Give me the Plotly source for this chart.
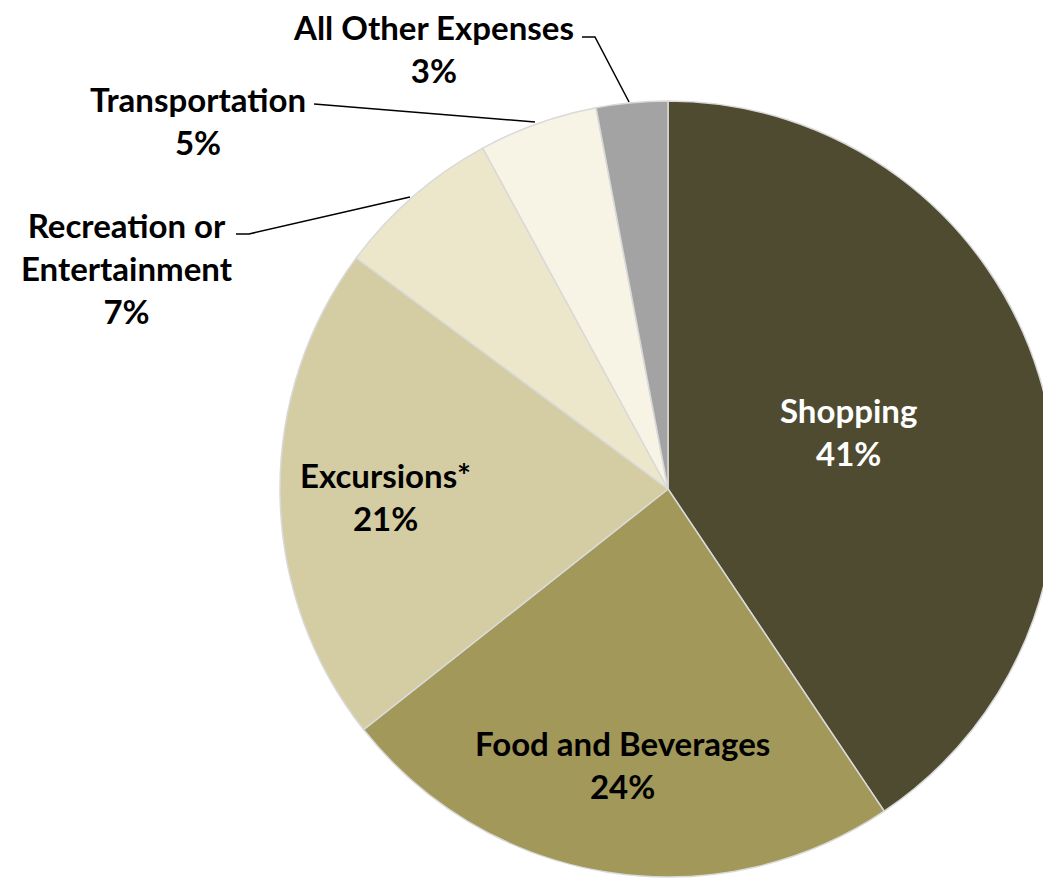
import plotly.graph_objects as go

# spending categories, clockwise from 12 o'clock
categories = [
    "Shopping",
    "Food and Beverages",
    "Excursions*",
    "Recreation or<br>Entertainment",
    "Transportation",
    "All Other Expenses",
]
shares = [41, 24, 21, 7, 5, 3]
slice_colors = ["#4f4b31", "#a19859", "#d4cca2", "#ece6ca", "#f7f4e5", "#a3a3a3"]

W, H = 1051, 882
OFF = 8  # page body margin


def px_x(x):
    return (x - OFF) / W


def px_y(y):
    return 1 - (y - OFF) / H


fig = go.Figure(
    go.Pie(
        labels=[c.replace("<br>", " ") for c in categories],
        values=shares,
        sort=False,
        direction="clockwise",
        rotation=0,
        textinfo="none",
        hoverinfo="label+percent",
        marker=dict(colors=slice_colors, line=dict(color="#d9d9d9", width=1.5)),
        domain=dict(x=[px_x(280), px_x(1056)], y=[px_y(877), px_y(101)]),
        showlegend=False,
    )
)

# label placement (page px) and text colour
label_pos = [(848, 432), (622, 764), (385, 497), (127, 268), (198, 120), (433, 48)]
label_color = ["white", "black", "black", "black", "black", "black"]

annotations = []
for cat, val, (x, y), col in zip(categories, shares, label_pos, label_color):
    annotations.append(dict(
        x=px_x(x), y=px_y(y), xref="paper", yref="paper",
        text=f"<b>{cat}<br>{val}%</b>", showarrow=False,
        font=dict(family="Lato", size=33, color=col),
        align="center", xanchor="center", yanchor="middle",
    ))

# leader lines for the small outside slices
leaders = [
    [(582, 37), (595, 37), (629, 102)],
    [(314, 104), (535, 122)],
    [(236, 234), (249, 234), (410, 197)],
]
shapes = []
for pts in leaders:
    path = "M " + " L ".join(f"{px_x(x):.4f} {px_y(y):.4f}" for x, y in pts)
    shapes.append(dict(type="path", path=path, xref="paper", yref="paper",
                       line=dict(color="black", width=1.5)))

fig.update_layout(
    width=W, height=H,
    margin=dict(l=0, r=0, t=0, b=0),
    paper_bgcolor="white", plot_bgcolor="white",
    annotations=annotations, shapes=shapes,
)

fig.write_html("out.html")
